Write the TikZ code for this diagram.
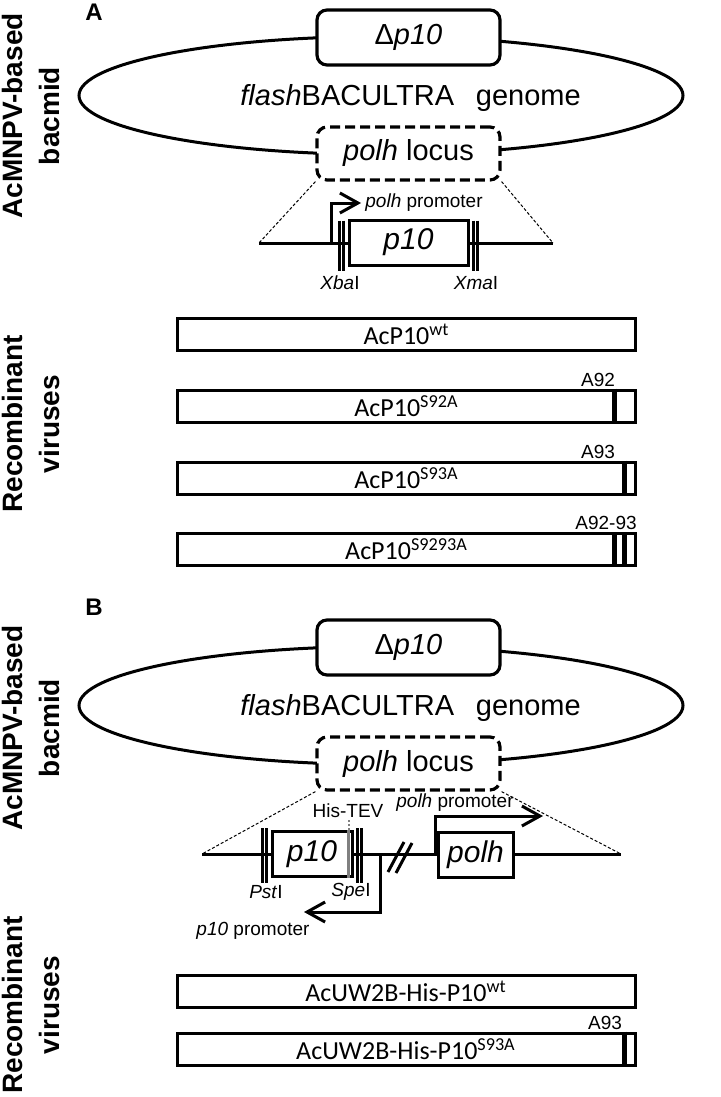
\documentclass[tikz,border=0pt]{standalone}
\usepackage{fontspec}
\setmainfont{Liberation Sans}
\newfontfamily\calibfont{Carlito}
\usetikzlibrary{positioning,shapes.geometric,arrows.meta}

\begin{document}
\begin{tikzpicture}[x=0.5pt, y=-0.5pt,
                    genome/.style={draw, ellipse, line width=1.5pt, minimum width=302pt, minimum height=59pt},
                    gene/.style={draw, fill=white, rounded corners=5pt, line width=1.6pt, inner sep=0pt, minimum width=91.5pt, minimum height=27.5pt, font=\fontsize{14.5}{17}\selectfont},
                    locus/.style={gene, dash pattern=on 5pt off 2.5pt, minimum height=26.5pt},
                    orf/.style={draw, fill=white, line width=1.5pt, inner sep=0pt, minimum height=22.5pt, font=\fontsize{15}{17}\selectfont\itshape},
                    bar/.style={draw, line width=1.5pt, inner sep=0pt, minimum width=229pt, minimum height=16pt, font=\calibfont\fontsize{13}{15}\selectfont},
                    site/.style={line width=1.5pt},
                    dna/.style={line width=1.5pt},
                    zoomline/.style={line width=0.5pt, dash pattern=on 1.5pt off 1pt},
                    prom/.style={line width=1.5pt, -{Straight Barb[length=9pt, width=10pt]}},
                    mut/.style={line width=2.5pt},
                    tev/.style={line width=1.2pt, gray},
                    tevdot/.style={line width=1pt, gray, dash pattern=on 1pt off 1pt},
                    small/.style={inner sep=1pt, font=\fontsize{9.5}{11}\selectfont},
                    side/.style={rotate=90, align=center, inner sep=0pt, font=\bfseries\fontsize{14}{18.5}\selectfont},
                    panel/.style={font=\bfseries\fontsize{12}{14}\selectfont},
                    title/.style={anchor=base west, inner sep=0pt, font=\fontsize{14.5}{17}\selectfont},
                ]
                \useasboundingbox (0,0) rectangle (720,1097);

                %Panel A
                \node[panel] (lblA) at (94,12)  {A};
                \node[side]  (bacA) at (31,116) {AcMNPV-based\\bacmid};
                \node[side]  (recA) at (31,424) {Recombinant\\viruses};

                \node[genome] (gA)   at (381,95.5)    {};
                \node[title]  (gtA)  at (240,105)     {\textit{flash}BACULTRA\hspace{0.75em}genome};
                \node[gene]   (delA) at (408.5,37.5)  {Δ\textit{p10}};
                \node[locus]  (locA) at (408.5,153.5) {\textit{polh} locus};

                %Locus A
                \coordinate (aL) at (259,243);
                \coordinate (aR) at (553,243);
                \draw[dna] (aL) -- (aR);
                \draw[zoomline] (locA.south west) -- (aL);
                \draw[zoomline] (locA.south east) -- (aR);
                \node[orf, minimum width=59.5pt] (p10A) at (408.5,242.5) {p10};
                \foreach \dx in {-4pt,-2pt}
                    \draw[site] ([xshift=\dx,yshift=-1pt]p10A.north west) -- ([xshift=\dx,yshift=-2pt]p10A.south west);
                \foreach \dx in {2pt,4pt}
                    \draw[site] ([xshift=\dx,yshift=-1pt]p10A.north east) -- ([xshift=\dx,yshift=-2pt]p10A.south east);
                \node[small] (xba) at (340,283) {\textit{Xba}I};
                \node[small] (xma) at (476,283) {\textit{Xma}I};
                \coordinate (pA)  at (331,243);
                \coordinate (pAh) at (361,203);
                \draw[prom] (pA) |- (pAh);
                \node[small, anchor=west] (pAl) at (363,203) {\textit{polh} promoter};

                %Viruses A
                \node[bar] (wt)    at (406.5,334)   {AcP10\textsuperscript{wt}};
                \node[bar] (s92)   at (406.5,406)   {AcP10\textsuperscript{S92A}};
                \node[bar] (s93)   at (406.5,478)   {AcP10\textsuperscript{S93A}};
                \node[bar] (s9293) at (406.5,549.5) {AcP10\textsuperscript{S9293A}};
                \draw[mut] ([xshift=-11.5pt]s92.north east) -- ([xshift=-11.5pt]s92.south east);
                \draw[mut] ([xshift=-6.5pt]s93.north east) -- ([xshift=-6.5pt]s93.south east);
                \foreach \dx in {-11.5pt,-6.5pt}
                    \draw[mut] ([xshift=\dx]s9293.north east) -- ([xshift=\dx]s9293.south east);
                \node[small] (a92)   at (598,380) {A92};
                \node[small] (a93)   at (598,452) {A93};
                \node[small] (a9293) at (606,523) {A92-93};

                %Panel B
                \node[panel] (lblB) at (94,607)  {B};
                \node[side]  (bacB) at (31,728)  {AcMNPV-based\\bacmid};
                \node[side]  (recB) at (31,1005) {Recombinant\\viruses};

                \node[genome] (gB)   at (381,705.5)   {};
                \node[title]  (gtB)  at (240,715)     {\textit{flash}BACULTRA\hspace{0.75em}genome};
                \node[gene]   (delB) at (408.5,647.5) {Δ\textit{p10}};
                \node[locus]  (locB) at (408.5,763.5) {\textit{polh} locus};

                %Locus B
                \coordinate (bL) at (202,854);
                \coordinate (bR) at (621,854);
                \draw[dna] (bL) -- (bR);
                \draw[zoomline] (locB.south west) -- (bL);
                \draw[zoomline] (locB.south east) -- (bR);
                \node[orf, minimum width=40pt] (p10B) at (312,854) {p10};
                \coordinate (tevtop) at ([xshift=-2.5pt]p10B.north east);
                \draw[tev] (tevtop) -- ([xshift=-2.5pt]p10B.south east);
                \node[small] (tev) at (348,811) {His-TEV};
                \draw[tevdot] (tevtop) -- (tevtop |- tev.south);
                \foreach \dx in {-4pt,-2pt}
                    \draw[site] ([xshift=\dx,yshift=1pt]p10B.north west) -- ([xshift=\dx,yshift=-2.5pt]p10B.south west);
                \foreach \dx in {2pt,4pt}
                    \draw[site] ([xshift=\dx,yshift=1pt]p10B.north east) -- ([xshift=\dx,yshift=-2.5pt]p10B.south east);
                \node[small] (pst) at (266,892) {\textit{Pst}I};
                \node[small] (spe) at (351,892) {\textit{Spe}I};
                \coordinate (pB)  at (380,854);
                \coordinate (pBh) at (304,912);
                \draw[prom] (pB) |- (pBh);
                \node[small] (pBl) at (253,931) {\textit{p10} promoter};
                \draw[dna] (388,872) -- (404,842);
                \draw[dna] (396,873) -- (412,843);
                \node[orf, minimum width=37.5pt] (polh) at (475.5,855) {polh};
                \coordinate (qB)  at (435,854);
                \coordinate (qBh) at (543,816);
                \draw[prom] (qB) |- (qBh);
                \node[small] (qBl) at (455,803) {\textit{polh} promoter};

                %Viruses B
                \node[bar] (uwt) at (406,991)  {AcUW2B-His-P10\textsuperscript{wt}};
                \node[bar] (u93) at (406,1049) {AcUW2B-His-P10\textsuperscript{S93A}};
                \draw[mut] ([xshift=-6pt]u93.north east) -- ([xshift=-6pt]u93.south east);
                \node[small] (b93) at (605,1023) {A93};
\end{tikzpicture}
\end{document}
